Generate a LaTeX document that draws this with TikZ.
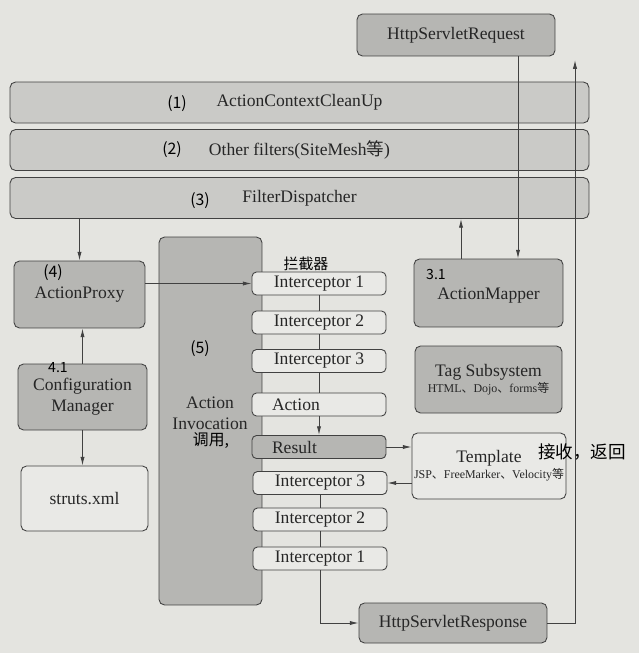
\documentclass[tikz,border=0pt]{standalone}
\usepackage{fontspec}
\setmainfont{Liberation Serif}
\newfontfamily\cjk{Noto Sans CJK SC}
\usetikzlibrary{arrows.meta}
\definecolor{paper}{RGB}{228,228,224}
\definecolor{barfill}{RGB}{202,202,199}
\definecolor{boxfill}{RGB}{182,182,179}
\definecolor{litefill}{RGB}{233,233,230}
\definecolor{ink}{RGB}{65,65,65}

\begin{document}
\begin{tikzpicture}[x=0.02cm, y=-0.02cm,
    box/.style={draw=ink, line width=0.5pt, rounded corners=0.11cm, inner sep=0pt,
        align=center, text=black!85, font=\fontsize{10}{12}\selectfont},
    gbox/.style={box, fill=boxfill},
    wbox/.style={box, fill=litefill},
    bar/.style={box, fill=barfill, minimum width=11.58cm, minimum height=0.82cm},
    ibox/.style={wbox, minimum width=2.68cm, minimum height=0.46cm, rounded corners=0.09cm},
    arr/.style={draw=ink, line width=0.5pt, -{Latex[length=5pt,width=2.4pt]}},
    link/.style={draw=ink, line width=0.5pt},
    hand/.style={text=black, font=\cjk\fontsize{9}{10}\selectfont}]
    \path[use as bounding box, fill=paper] (0,0) rectangle (639,653);

    % filters
    \node[gbox, minimum width=3.96cm, minimum height=0.84cm] (req) at (456,35) {HttpServletRequest};
    \node[bar] (f1) at (299.5,102.5) {ActionContextCleanUp};
    \node[bar] (f2) at (299.5,150) {Other filters(SiteMesh{\cjk 等})};
    \node[bar] (f3) at (299.5,198) {FilterDispatcher};

    % left column
    \node[gbox, minimum width=2.62cm, minimum height=1.34cm] (proxy) at (79.5,294.5) {ActionProxy};
    \node[gbox, minimum width=2.58cm, minimum height=1.32cm] (cfg) at (82.5,397) {Configuration\\Manager};
    \node[wbox, minimum width=2.54cm, minimum height=1.3cm] (xml) at (84.5,498.5) {struts.xml};
    \node[gbox, minimum width=2.06cm, minimum height=7.36cm] (inv) at (210.5,421) {};
    \node[font=\fontsize{10}{12}\selectfont, align=center, text=black!85] (invtxt) at (210,413) {Action\\Invocation};

    % interceptor stack
    \node[ibox] (i1) at (319,283.5) {Interceptor 1};
    \node[ibox] (i2) at (319,322.5) {Interceptor 2};
    \node[ibox] (i3) at (319,361) {Interceptor 3};
    \node[ibox, text width=1.88cm, align=left] (act) at (319,404.5) {Action};
    \node[ibox, fill=boxfill, text width=1.88cm, align=left] (res) at (319,447) {Result};
    \node[ibox] (o3) at (320,483) {Interceptor 3};
    \node[ibox] (o2) at (320,519.5) {Interceptor 2};
    \node[ibox] (o1) at (320,558.5) {Interceptor 1};

    % right column
    \node[gbox, minimum width=2.98cm, minimum height=1.36cm] (map) at (488.5,293) {\\[-2pt]ActionMapper};
    \node[gbox, minimum width=2.94cm, minimum height=1.34cm] (tag) at (488.5,379.5)
        {Tag Subsystem\\[-3pt]{\fontsize{6.8}{8}\selectfont HTML{\cjk 、}Dojo{\cjk 、}forms{\cjk 等}}};
    \node[wbox, minimum width=3.08cm, minimum height=1.32cm] (tpl) at (489,466)
        {Template\\[-3pt]{\fontsize{6.8}{8}\selectfont JSP{\cjk 、}FreeMarker{\cjk 、}Velocity{\cjk 等}}};
    \node[gbox, minimum width=3.76cm, minimum height=0.8cm] (resp) at (453,623) {HttpServletResponse};

    % handwritten notes
    \node[hand] (h1) at (177,104) {(1)};
    \node[hand] (h2) at (172,150) {(2)};
    \node[hand] (h3) at (200,201) {(3)};
    \node[hand] (h4) at (53,273) {(4)};
    \node[hand, font=\cjk\fontsize{8}{9}\selectfont] (h41) at (58,368) {4.1};
    \node[hand] (h5) at (200,349) {(5)};
    \node[hand, font=\cjk\fontsize{8}{9}\selectfont] (h31) at (436,274) {3.1};
    \node[hand, font=\cjk\fontsize{8.5}{9}\selectfont] (h6) at (306,264) {拦截器};
    \node[hand] (h7) at (211,441) {调用,};
    \node[hand, font=\cjk\fontsize{10}{11}\selectfont] (h8) at (582,452) {接收，返回};

    % connectors
    \coordinate (up) at (461,0);
    \coordinate (down) at (518,0);
    \coordinate (back) at (575,60);
    \draw[arr] (req.south -| down) -- (map.north -| down);
    \draw[arr] (map.north -| up) -- (f3.south -| up);
    \draw[arr] (f3.south -| proxy) -- (proxy);
    \draw[arr] (cfg) -- (cfg |- proxy.south);
    \draw[arr] (cfg) -- (cfg |- xml.north);
    \draw[arr] (proxy.east |- i1) -- (i1);
    \draw[link] (i1) -- (i2);
    \draw[link] (i2) -- (i3);
    \draw[link] (i3) -- (act);
    \draw[arr] (act) -- (res);
    \draw[arr] (res) -- (res -| tpl.west);
    \draw[arr] (tpl.west |- o3) -- (o3);
    \draw[link] (o3) -- (o2);
    \draw[link] (o2) -- (o1);
    \draw[arr] (o1) |- (resp);
    \draw[arr] (resp) -| (back);
\end{tikzpicture}
\end{document}
